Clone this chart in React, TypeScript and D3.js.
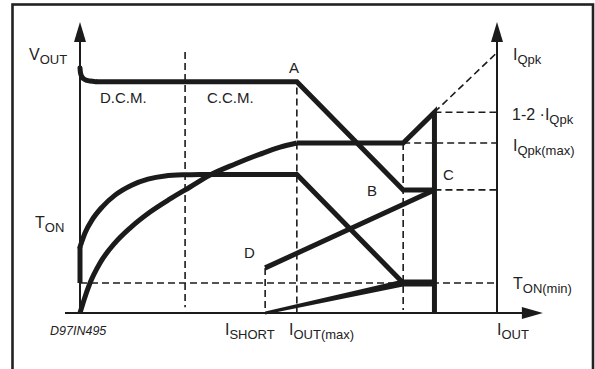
import React from "react";
import * as d3 from "d3";

// Schematic units: I_OUT axis runs 0..100 between the two vertical axes,
// the vertical axis runs 0..100 from the I_OUT axis up to the arrow tips.
const xEdges = [0, 100]; // left axis (V_OUT / T_ON), right axis (I_Q)
const xArrowTip = 111;
const xAxisStart = -3.6;
const xDcm = 25.2, xShort = 44.4, xOutMax = 52, xB = 77.5, xC = 85;

const yTonMin = 10.3, yD = 15.5, yBC = 42.3, yTonFlat = 47.6;
const yQpkMax = 58.4, yQpk12 = 69, yQpk = 89.5, yVout = 79.5, yDcmTop = 89.7;

// V_OUT curve: short decay at light load, flat, foldback A -> B
const vOutCurve: [number, number][] = [[0, 84.2], [0.12, 82.5], [0.5, 81.1], [1.2, 80.2], [2.4, 79.7], [3.8, yVout]];
const vOutLine: [number, number][] = [[3.8, yVout], [xOutMax, yVout], [xB, yBC], [xC, yBC]];

// T_ON curve
const tOnStem: [number, number][] = [[0, yTonMin], [0, 22.7]];
const tOnCurve: [number, number][] = [
  [0, 22.7], [1.2, 27.5], [2.9, 32], [5.3, 36.4], [8.4, 40.5], [12.5, 44],
  [16.3, 46], [20.4, 47.1], [25.2, 47.5], [28.8, yTonFlat]
];
const tOnLine: [number, number][] = [[28.8, yTonFlat], [xOutMax, yTonFlat], [xB, yTonMin], [xC, yTonMin]];

// I_Q peak current curve
const iqCurve: [number, number][] = [
  [0, 0], [0.96, 4.5], [2.4, 10.3], [4.8, 17.2], [8.4, 24.1], [12, 29.2], [16.8, 34.7],
  [21.6, 39.2], [26.4, 43.3], [31.2, 47.4], [37.2, 51.2], [43.2, 54.6], [48, 57], [xOutMax, yQpkMax]
];
const iqLine: [number, number][] = [[xOutMax, yQpkMax], [xB, yQpkMax], [xC, yQpk12], [xC, 0]];

// short-circuit branch D -> C
const dLine: [number, number][] = [[xShort, yD], [xC, yBC]];
const wedge: [number, number][] = [[xShort, 0], [xB, yTonMin], [xC, yTonMin]];

const dashed: [number, number][][] = [
  [[xDcm, yDcmTop], [xDcm, 2]],
  [[xOutMax, yVout - 2], [xOutMax, 0]],
  [[xB, yQpkMax], [xB, 1]],
  [[xShort, yD], [xShort, 0]],
  [[0, yTonMin], [100, yTonMin]],
  [[xB, yQpkMax], [100, yQpkMax]],
  [[xC, yQpk12], [100, yQpk12]],
  [[xC, yBC], [100, yBC]],
  [[xC, yQpk12], [100, yQpk]]
];

type Lab = { x: number; y: number; main: string; sub?: string };
// label anchor points in pixels of the page
const labels: Lab[] = [
  { x: 29, y: 60, main: "V", sub: "OUT" },
  { x: 35, y: 228, main: "T", sub: "ON" },
  { x: 225, y: 335, main: "I", sub: "SHORT" },
  { x: 289, y: 335, main: "I", sub: "OUT(max)" },
  { x: 497, y: 335, main: "I", sub: "OUT" },
  { x: 513, y: 60, main: "I", sub: "Qpk" },
  { x: 512, y: 120, main: "1-2 \u00b7I", sub: "Qpk" },
  { x: 513, y: 151, main: "I", sub: "Qpk(max)" },
  { x: 513, y: 289, main: "T", sub: "ON(min)" }
];
const letters: Lab[] = [
  { x: 289, y: 73, main: "A" },
  { x: 367, y: 196, main: "B" },
  { x: 443, y: 180, main: "C" },
  { x: 244, y: 258, main: "D" },
  { x: 100, y: 103, main: "D.C.M." },
  { x: 207, y: 103, main: "C.C.M." }
];

const ink = "#1b1b1b";
const font = "'Liberation Sans', Arial, Helvetica, sans-serif";

export default function App() {
  const x = d3.scaleLinear().domain([0, 100]).range([80, 497]);
  const y = d3.scaleLinear().domain([0, 100]).range([313, 22]);

  const straight = d3.line<[number, number]>().x(d => x(d[0])).y(d => y(d[1]));
  const smooth = d3.line<[number, number]>().x(d => x(d[0])).y(d => y(d[1])).curve(d3.curveMonotoneX);

  const thick = { fill: "none", stroke: ink, strokeWidth: 5, strokeLinejoin: "miter" as const };

  // tapered stroke from I_SHORT up to T_ON(min)
  const wp = wedge.map(d => [x(d[0]), y(d[1])]);
  const wedgePts: [number, number][] = [
    [wp[0][0], wp[0][1] - 1.5], [wp[1][0], wp[1][1] - 3.5], [wp[2][0], wp[2][1] - 3.5],
    [wp[2][0], wp[2][1] + 3.5], [wp[1][0], wp[1][1] + 3.5], [wp[0][0], wp[0][1] + 1.5]
  ];

  const arrowUp = (xv: number) => {
    const cx = x(xv), tip = y(100);
    return `${cx},${tip} ${cx - 6},${tip + 20} ${cx + 6},${tip + 20}`;
  };
  const tipX = x(xArrowTip), axY = y(0);

  return (
    <svg width={595} height={369} style={{ position: "absolute", left: 0, top: 0, background: "#fff" }}>
      <rect x={12.5} y={4.5} width={580.5} height={380} fill="none" stroke="#222" strokeWidth={2.6} />

      {/* axes */}
      {xEdges.map((e, i) => (
        <g key={i}>
          <line x1={x(e)} x2={x(e)} y1={y(0)} y2={y(100) + 15} stroke={ink} strokeWidth={2} />
          <polygon points={arrowUp(e)} fill={ink} />
        </g>
      ))}
      <line x1={x(xAxisStart)} x2={tipX - 15} y1={axY} y2={axY} stroke={ink} strokeWidth={2} />
      <polygon points={`${tipX},${axY} ${tipX - 21},${axY - 6} ${tipX - 21},${axY + 6}`} fill={ink} />

      {/* dashed construction lines */}
      {dashed.map((s, i) => (
        <path key={i} d={straight(s) || ""} fill="none" stroke={ink} strokeWidth={1.6} strokeDasharray="7 4" />
      ))}

      {/* characteristics */}
      <path d={smooth(vOutCurve) || ""} {...thick} strokeLinecap="round" />
      <path d={straight(vOutLine) || ""} {...thick} />
      <path d={straight(tOnStem) || ""} {...thick} />
      <path d={smooth(tOnCurve) || ""} {...thick} strokeLinecap="round" />
      <path d={straight(tOnLine) || ""} {...thick} />
      <path d={smooth(iqCurve) || ""} {...thick} />
      <path d={straight(iqLine) || ""} {...thick} />
      <path d={straight(dLine) || ""} {...thick} />
      <polygon points={wedgePts.map(p => p.join(",")).join(" ")} fill={ink} />

      {/* labels */}
      <g fontFamily={font} fill="#222">
        {labels.map((l, i) => (
          <text key={i} x={l.x} y={l.y} fontSize={16}>
            {l.main}
            <tspan fontSize={13} dy={4}>{l.sub}</tspan>
          </text>
        ))}
        {letters.map((l, i) => (
          <text key={i} x={l.x} y={l.y} fontSize={15}>{l.main}</text>
        ))}
        <text x={50} y={335} fontSize={12.5} fontStyle="italic">D97IN495</text>
      </g>
    </svg>
  );
}
